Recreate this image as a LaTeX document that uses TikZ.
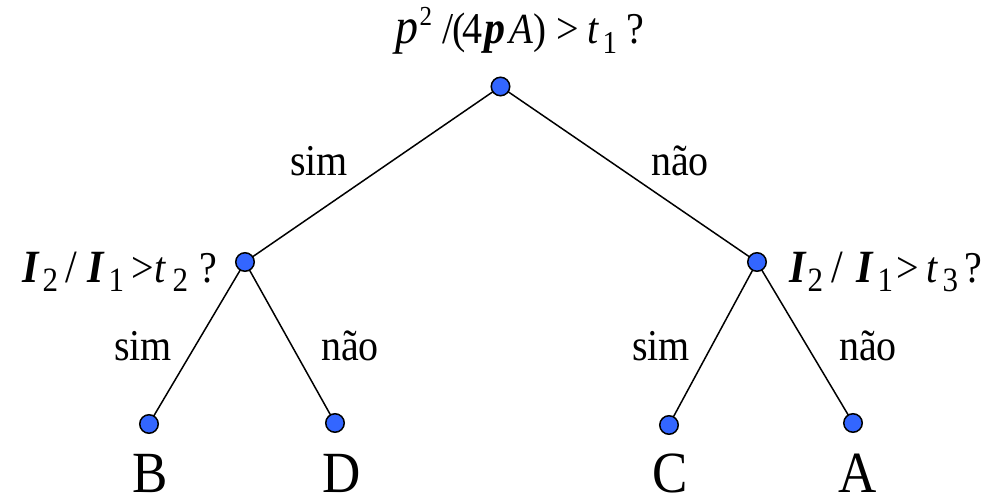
\documentclass[tikz,border=0pt]{standalone}
\usepackage{fontspec}
\setmainfont{Liberation Serif}
\definecolor{dotblue}{RGB}{51,102,255}
\tikzset{
  dot/.style={circle,draw=black,fill=dotblue,line width=1.5pt,minimum size=18.5pt,inner sep=0pt},
  edge/.style={line width=1.5pt,black},
  lbl/.style={anchor=base,inner sep=0pt},
  frm/.style={anchor=base west,inner sep=0pt}
}
% glyph at absolute x, font size, content (vertically stretched like the reference)
\newcommand{\gl}[3]{\rlap{\hspace*{#1pt}\scalebox{1}[1.1]{\fontsize{#2}{#2}\selectfont #3}}}
\newcommand{\txt}[2]{\scalebox{1}[1.1]{\fontsize{#1}{#1}\selectfont #2}}
\newcommand{\bi}[1]{\textbf{\textit{#1}}}
\newcommand{\dn}[1]{\raisebox{-9pt}{#1}}
\newcommand{\up}[1]{\raisebox{17pt}{#1}}
\begin{document}
\begin{tikzpicture}[x=1pt,y=-1pt]
\useasboundingbox (0,0) rectangle (990,503);
% node positions
\coordinate (pr) at (500.5,86.5);
\coordinate (pl) at (245,262);
\coordinate (pR) at (757,262);
\coordinate (pb) at (149,424);
\coordinate (pd) at (335,423);
\coordinate (pc) at (669,425);
\coordinate (pa) at (853,423);
% connectors
\draw[edge] (pr) -- (pl);
\draw[edge] (pr) -- (pR);
\draw[edge] (pl) -- (pb);
\draw[edge] (pl) -- (pd);
\draw[edge] (pR) -- (pc);
\draw[edge] (pR) -- (pa);
% dots
\node[dot] (root) at (pr) {};
\node[dot] (left) at (pl) {};
\node[dot] (right) at (pR) {};
\node[dot] (b) at (pb) {};
\node[dot] (d) at (pd) {};
\node[dot] (c) at (pc) {};
\node[dot] (a) at (pa) {};
% formulas
\node[frm] (f1) at (0,44) {%
  \gl{395}{46}{\textit{p}}%
  \gl{419}{25}{\up{2}}%
  \gl{442}{40}{/}%
  \gl{452}{40}{(}%
  \gl{462}{40}{4}%
  \gl{484}{42}{\bi{p}}%
  \gl{509}{39}{\textit{A}}%
  \gl{533}{39}{)}%
  \gl{556}{40}{>}%
  \gl{587}{40}{\textit{t}}%
  \gl{602}{29}{\dn{1}}%
  \gl{626}{40}{?}};
\node[frm] (f2) at (0,282) {%
  \gl{22}{42}{\bi{I}}%
  \gl{42}{31}{\dn{2}}%
  \gl{65}{42}{/}%
  \gl{87}{42}{\bi{I}}%
  \gl{108}{31}{\dn{1}}%
  \gl{131}{40}{>}%
  \gl{154}{40}{\textit{t}}%
  \gl{172}{31}{\dn{2}}%
  \gl{199}{40}{?}};
\node[frm] (f3) at (0,282) {%
  \gl{789}{42}{\bi{I}}%
  \gl{807}{31}{\dn{2}}%
  \gl{831}{42}{/}%
  \gl{856}{42}{\bi{I}}%
  \gl{877}{31}{\dn{1}}%
  \gl{896}{40}{>}%
  \gl{926}{40}{\textit{t}}%
  \gl{942}{31}{\dn{3}}%
  \gl{964}{40}{?}};
% edge labels
\node[lbl] (s1) at (319,175) {\txt{40}{sim}};
\node[lbl] (n1) at (680,175) {\txt{40}{não}};
\node[lbl] (s2) at (143,360) {\txt{40}{sim}};
\node[lbl] (n2) at (350,360) {\txt{40}{não}};
\node[lbl] (s3) at (661,360) {\txt{40}{sim}};
\node[lbl] (n3) at (868,360) {\txt{40}{não}};
% leaves
\node[lbl] (lb) at (150,492) {\txt{53}{\smash{B}}};
\node[lbl] (ld) at (342,492) {\txt{53}{\smash{D}}};
\node[lbl] (lc) at (670,492) {\txt{53}{\smash{C}}};
\node[lbl] (la) at (858,492) {\txt{53}{\smash{A}}};
\end{tikzpicture}
\end{document}
